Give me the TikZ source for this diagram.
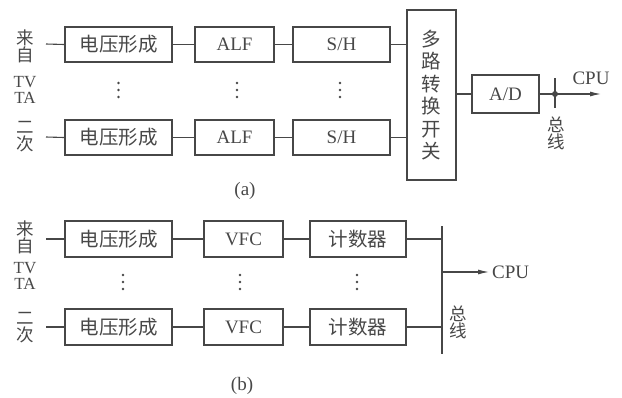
\documentclass[tikz,border=0pt]{standalone}
\usepackage{fontspec}
\setmainfont{Liberation Serif}
\newfontfamily\cjk{Noto Sans CJK SC}
\usetikzlibrary{positioning,arrows.meta}
\definecolor{ink}{gray}{0.28}
\tikzset{
  block/.style={draw=ink, line width=1.6pt, minimum height=35pt, inner sep=0pt,
    text=ink, font=\fontsize{19}{20}\selectfont},
  cjkblock/.style={block, font=\fontsize{19.5}{20}\selectfont\cjk},
  mux/.style={block, align=center, font=\fontsize{19.5}{22.5}\selectfont\cjk},
  src/.style={align=center, inner sep=0pt, text=ink, font=\fontsize{17.5}{17}\selectfont\cjk},
  srclat/.style={align=center, inner sep=0pt, text=ink, font=\fontsize{17}{16}\selectfont},
  busname/.style={src},
  caption/.style={inner sep=0pt, text=ink, font=\fontsize{19}{20}\selectfont},
  dot3/.style={fill=ink},
  wire/.style={draw=ink, line width=1.1pt},
  feed/.style={wire, -{Latex[length=11pt,width=5pt]}},
  bus/.style={draw=ink, line width=1.6pt}
}
\newcommand\colondots[1]{\foreach \d in {-7,0,7} \fill[dot3] (#1) ++(0,\d) circle (1.3pt);}
\begin{document}
\begin{tikzpicture}[x=1pt, y=-1pt]
    \useasboundingbox (0,0) rectangle (622,397);
    % (a)
    \node[src] (srcA) at (25,46) {来\\自};
    \node[srclat] (tvA) at (25,90) {TV\\TA};
    \node[src] (secA) at (25,137) {二\\次};
    \node[coordinate] (inA1) at (46,44) {};
    \node[coordinate] (inA2) at (46,137) {};
    \node[cjkblock, minimum width=107pt] (vA1) at (118.5,44.5) {电压形成};
    \node[cjkblock, minimum width=107pt] (vA2) at (118.5,137.5) {电压形成};
    \node[block, minimum width=79pt] (alf1) at (234.5,44.5) {ALF};
    \node[block, minimum width=79pt] (alf2) at (234.5,137.5) {ALF};
    \node[block, minimum width=97pt] (sh1) at (341.5,44.5) {S/H};
    \node[block, minimum width=97pt] (sh2) at (341.5,137.5) {S/H};
    \node[mux, minimum width=49pt, minimum height=170pt] (mux) at (431.5,95) {多\\路\\转\\换\\开\\关};
    \node[block, minimum width=67pt, minimum height=38pt] (ad) at (505.5,94) {A/D};
    \node[coordinate] (dA1) at (118.5,90) {};
    \node[coordinate] (dA2) at (237,90) {};
    \node[coordinate] (dA3) at (340,90) {};
    \node[coordinate] (joint) at (555,94) {};
    \node[coordinate] (busAt) at (555,78) {};
    \node[coordinate] (busAb) at (555,108) {};
    \node[coordinate] (cpuA) at (601,94) {};
    \node[caption] (cpuAt) at (591,78) {CPU};
    \node[busname] (busA) at (556,133) {总\\线};
    \node[caption] (capA) at (245,191) {(a)};
    \draw[wire] (inA1) -- (vA1.west);
    \draw[wire] (inA2) -- (vA2.west);
    \draw[wire] (vA1) -- (alf1);
    \draw[wire] (vA2) -- (alf2);
    \draw[wire] (alf1) -- (sh1);
    \draw[wire] (alf2) -- (sh2);
    \draw[wire] (sh1.east) -- (sh1.east -| mux.west);
    \draw[wire] (sh2.east) -- (sh2.east -| mux.west);
    \draw[wire] (mux.east |- ad.west) -- (ad.west);
    \draw[feed] (ad.east) -- (cpuA);
    \draw[wire] (busAt) -- (busAb);
    \fill[ink] (joint) circle (3pt);
    \colondots{dA1}\colondots{dA2}\colondots{dA3}
    %
    % (b)
    \node[src] (srcB) at (25,237) {来\\自};
    \node[srclat] (tvB) at (25,276) {TV\\TA};
    \node[src] (secB) at (25,328) {二\\次};
    \node[coordinate] (inB1) at (46,239) {};
    \node[coordinate] (inB2) at (46,327) {};
    \node[cjkblock, minimum width=107pt, minimum height=36pt] (vB1) at (118.5,239) {电压形成};
    \node[cjkblock, minimum width=107pt, minimum height=36pt] (vB2) at (118.5,327) {电压形成};
    \node[block, minimum width=79pt, minimum height=36pt] (vfc1) at (243.5,239) {VFC};
    \node[block, minimum width=79pt, minimum height=36pt] (vfc2) at (243.5,327) {VFC};
    \node[cjkblock, minimum width=96pt, minimum height=36pt] (cnt1) at (358,239) {计数器};
    \node[cjkblock, minimum width=96pt, minimum height=36pt] (cnt2) at (358,327) {计数器};
    \node[coordinate] (dB1) at (123,282) {};
    \node[coordinate] (dB2) at (240,282) {};
    \node[coordinate] (dB3) at (357,282) {};
    \node[coordinate] (busBt) at (442,226) {};
    \node[coordinate] (busBb) at (442,354) {};
    \node[coordinate] (tap) at (442,272) {};
    \node[coordinate] (cpuB) at (489,272) {};
    \node[caption, right=3pt of cpuB] (cpuBt) {CPU};
    \node[busname] (busB) at (458,322) {总\\线};
    \node[caption] (capB) at (242,386) {(b)};
    \draw[wire] (inB1) -- (vB1.west);
    \draw[wire] (inB2) -- (vB2.west);
    \draw[wire] (vB1) -- (vfc1);
    \draw[wire] (vB2) -- (vfc2);
    \draw[wire] (vfc1) -- (cnt1);
    \draw[wire] (vfc2) -- (cnt2);
    \draw[wire] (cnt1.east) -- (cnt1.east -| busBt);
    \draw[wire] (cnt2.east) -- (cnt2.east -| busBt);
    \draw[bus] (busBt) -- (busBb);
    \draw[feed] (tap) -- (cpuB);
    \colondots{dB1}\colondots{dB2}\colondots{dB3}
\end{tikzpicture}
\end{document}
